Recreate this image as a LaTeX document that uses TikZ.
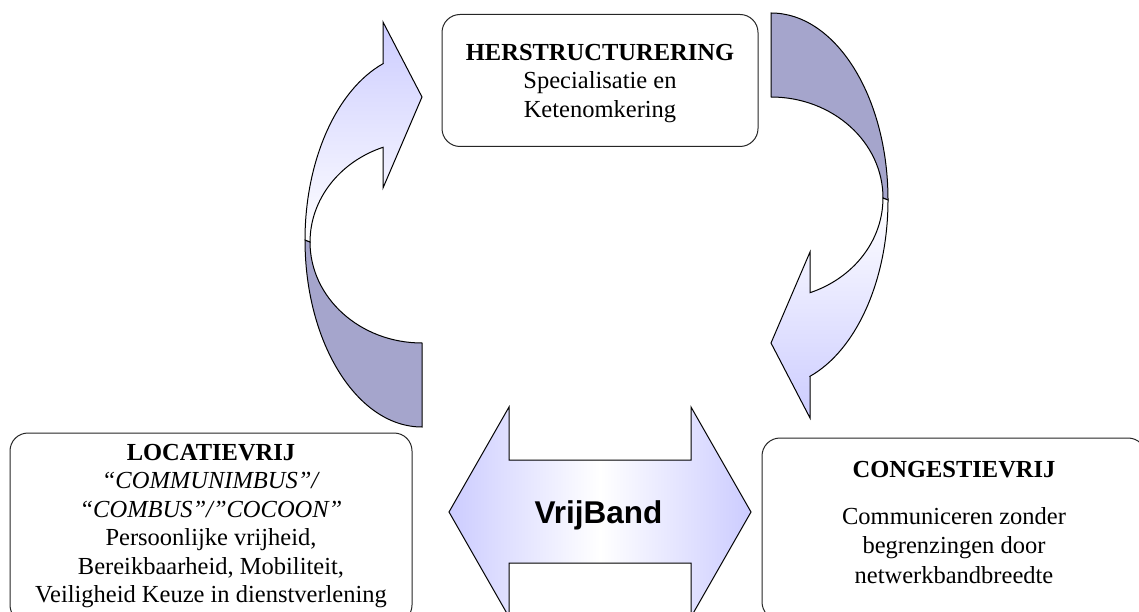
\documentclass[tikz,border=0pt]{standalone}
\usepackage{fontspec}
\setmainfont{Liberation Serif}
\newfontfamily\arialfont{Liberation Sans}
\usetikzlibrary{positioning}
\definecolor{lavender}{RGB}{204,204,255}
\definecolor{darklav}{RGB}{165,165,204}
\tikzset{
	box/.style = {draw=black!85, fill=white, rectangle, rounded corners=18pt, line width=1pt},
	txt/.style = {align=center, inner sep=0pt, font=\fontsize{24.5}{28.5}\selectfont},
	ribbon/.style = {draw, line width=1pt, line join=miter},
	backside/.style = {ribbon, fill=darklav}
}

\begin{document}
\begin{tikzpicture}[x=1pt, y=1pt]
		\useasboundingbox (0,0) rectangle (1139,611);
		\clip (0,0) rectangle (1139,611);
		% boxes
		\node [box, minimum width=316pt, minimum height=132pt] (herstr) at (600,530.5) {};
		\node [box, minimum width=402pt, minimum height=190pt] (locatie) at (211,83) {};
		\node [box, minimum width=384pt, minimum height=182pt] (congestie) at (954,82) {};
		\node [txt, below=30pt of herstr.north] (herstrtxt) {\textbf{HERSTRUCTURERING}\\Specialisatie en\\Ketenomkering};
		\node [txt, below=11.5pt of locatie.north] (locatietxt) {\textbf{LOCATIEVRIJ}\\\textit{“COMMUNIMBUS”/}\\\textit{“COMBUS”/”COCOON”}\\Persoonlijke vrijheid,\\Bereikbaarheid, Mobiliteit,\\Veiligheid Keuze in dienstverlening};
		\node [txt, below=24pt of congestie.north, font=\fontsize{24.5}{29.5}\selectfont] (congestietxt) {\textbf{CONGESTIEVRIJ}\\[17pt]Communiceren zonder\\begrenzingen door\\netwerkbandbreedte};
		% left curved arrow
		\draw [backside] (305,371) arc[start angle=180, end angle=270, x radius=117, y radius=187]
			-- (422,268) arc[start angle=270, end angle=180, x radius=112, y radius=101] -- cycle;
		\draw [ribbon, top color=lavender, bottom color=white] (383,547.3) -- (383,589) -- (422,514) -- (383,423) -- (383,463.7)
			arc[start angle=110.4, end angle=180, x radius=112, y radius=101] -- (305,371)
			arc[start angle=180, end angle=109.47, x radius=117, y radius=187] -- cycle;
		% right curved arrow
		\draw [backside] (888,411) arc[start angle=0, end angle=90, x radius=117, y radius=187]
			-- (771,514) arc[start angle=90, end angle=0, x radius=112, y radius=101] -- cycle;
		\draw [ribbon, top color=white, bottom color=lavender] (810,234.7) -- (810,193) -- (771,268) -- (810,359) -- (810,318.3)
			arc[start angle=290.4, end angle=360, x radius=112, y radius=101] -- (888,411)
			arc[start angle=360, end angle=289.47, x radius=117, y radius=187] -- cycle;
		% double arrow
		\draw [ribbon, left color=lavender, right color=lavender, middle color=white] (449,99) -- (509,204) -- (509,151) -- (691,151)
			-- (691,204) -- (751,99) -- (691,-6) -- (691,48) -- (509,48) -- (509,-6) -- cycle;
		\node [anchor=base] (vrijband) at (598.5,88) {\arialfont\bfseries\fontsize{31.5}{36}\selectfont VrijBand};
	    \end{tikzpicture}
\end{document}
